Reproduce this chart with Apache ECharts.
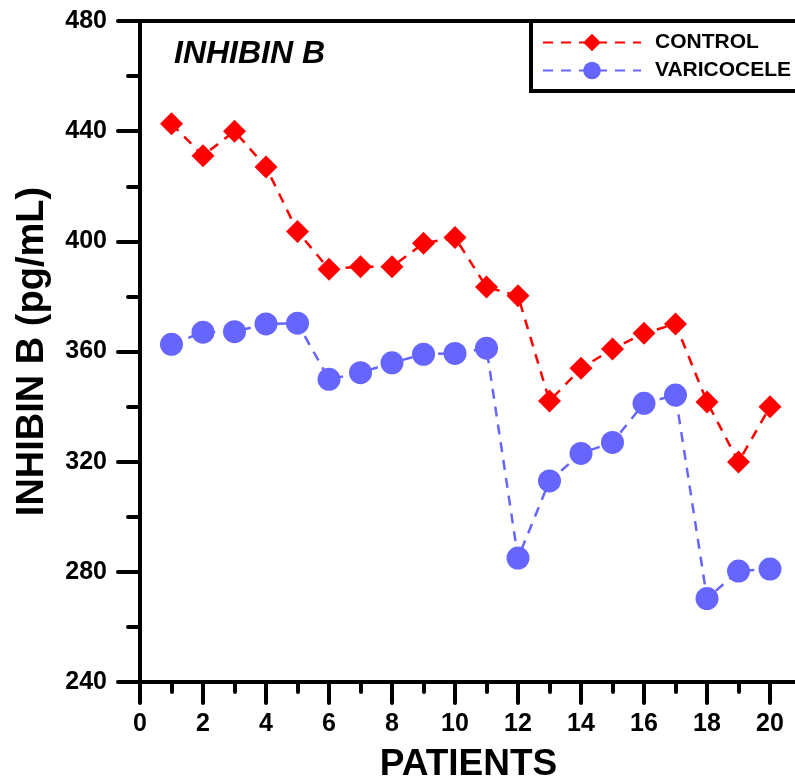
<!DOCTYPE html>
<html>
<head>
<meta charset="utf-8">
<script src="https://cdn.jsdelivr.net/npm/echarts@6/dist/echarts.min.js"></script>
<style>
  html, body { margin: 0; padding: 0; overflow: hidden; background: #fff; }
  #chart { width: 860px; height: 783px; }
</style>
</head>
<body>
<div id="chart"></div>
<script>
// Inhibin B levels per patient
const patients = [1, 2, 3, 4, 5, 6, 7, 8, 9, 10, 11, 12, 13, 14, 15, 16, 17, 18, 19, 20];
const control = [442.7, 431.1, 440, 427, 403.6, 389.9, 390.8, 390.8, 399.3, 401.4,
                 383.4, 380.2, 342, 353.9, 360.9, 366.6, 370, 341.7, 319.9, 339.9];
const varicocele = [362.6, 367, 367.2, 370, 370.3, 349.9, 352.3, 355.9, 359, 359.3,
                    361.2, 285, 313, 323, 327, 341.2, 344.2, 270.3, 280.3, 281];
const xTicks = [0, 2, 4, 6, 8, 10, 12, 14, 16, 18, 20];
const yTicks = [240, 280, 320, 360, 400, 440, 480];

const FONT = '"Liberation Sans", Arial, Helvetica, sans-serif';
const pairs = (ys) => patients.map((p, i) => [p, ys[i]]);

const chart = echarts.init(document.getElementById('chart'), null, { renderer: 'canvas' });

const axisLine = { show: true, onZero: false, lineStyle: { color: '#000', width: 4 } };
const tickStyle = { color: '#000', width: 4, cap: 'round' };

chart.setOption({
  animation: false,
  backgroundColor: '#fff',
  grid: {
    left: 140, top: 21, width: 693, height: 661,
    containLabel: false, outerBoundsMode: 'none',
    show: true, borderColor: '#000', borderWidth: 4, backgroundColor: 'transparent'
  },
  xAxis: {
    type: 'value', min: 0, max: 22, interval: 2,
    axisLine: axisLine,
    axisTick: { show: true, inside: false, length: 21, lineStyle: tickStyle },
    minorTick: { show: true, splitNumber: 2, length: 10, lineStyle: tickStyle },
    splitLine: { show: false },
    axisLabel: {
      margin: 30, color: '#000', fontFamily: FONT, fontWeight: 'bold', fontSize: 25,
      formatter: (v) => (xTicks.includes(v) ? String(v) : '')
    },
    name: 'PATIENTS', nameLocation: 'middle', nameGap: 64,
    nameTextStyle: {
      color: '#000', fontFamily: FONT, fontWeight: 'bold', fontSize: 37,
      padding: [0, 36, 0, 0]
    }
  },
  yAxis: {
    type: 'value', min: 240, max: 480, interval: 40,
    axisLine: axisLine,
    axisTick: { show: true, inside: false, length: 22, lineStyle: tickStyle },
    minorTick: { show: true, splitNumber: 2, length: 12, lineStyle: tickStyle },
    splitLine: { show: false },
    axisLabel: {
      margin: 33, color: '#000', fontFamily: FONT, fontWeight: 'bold', fontSize: 25,
      formatter: (v) => (yTicks.includes(v) ? String(v) : '')
    },
    name: 'INHIBIN B (pg/mL)', nameLocation: 'middle', nameGap: 88, nameRotate: 90,
    nameTextStyle: { color: '#000', fontFamily: FONT, fontWeight: 'bold', fontSize: 38 }
  },
  title: {
    text: 'INHIBIN B', left: 174, top: 38, padding: 0,
    textStyle: { color: '#000', fontFamily: FONT, fontWeight: 'bold', fontStyle: 'italic', fontSize: 32 }
  },
  legend: {
    orient: 'vertical', left: 542, top: 32, padding: 0,
    itemWidth: 98, itemHeight: 22, itemGap: 7,
    textStyle: { color: '#000', fontFamily: FONT, fontWeight: 'bold', fontSize: 21, padding: [0, 0, 0, 9] },
    data: ['CONTROL', 'VARICOCELE']
  },
  graphic: [{
    type: 'rect', z: 0, silent: true,
    shape: { x: 531, y: 21, width: 320, height: 70 },
    style: { fill: '#fff', stroke: '#000', lineWidth: 4 }
  }],
  series: [
    {
      name: 'CONTROL', type: 'line', data: pairs(control),
      symbol: 'diamond', symbolSize: 23,
      itemStyle: { color: '#ff0000' },
      lineStyle: { color: '#ff0000', width: 2.5, type: [10, 8] },
      z: 3
    },
    {
      name: 'VARICOCELE', type: 'line', data: pairs(varicocele),
      symbol: 'circle', symbolSize: 23,
      itemStyle: { color: '#6666ff' },
      lineStyle: { color: '#6666ff', width: 2.5, type: [10, 8] },
      z: 3
    }
  ]
});
</script>
</body>
</html>
